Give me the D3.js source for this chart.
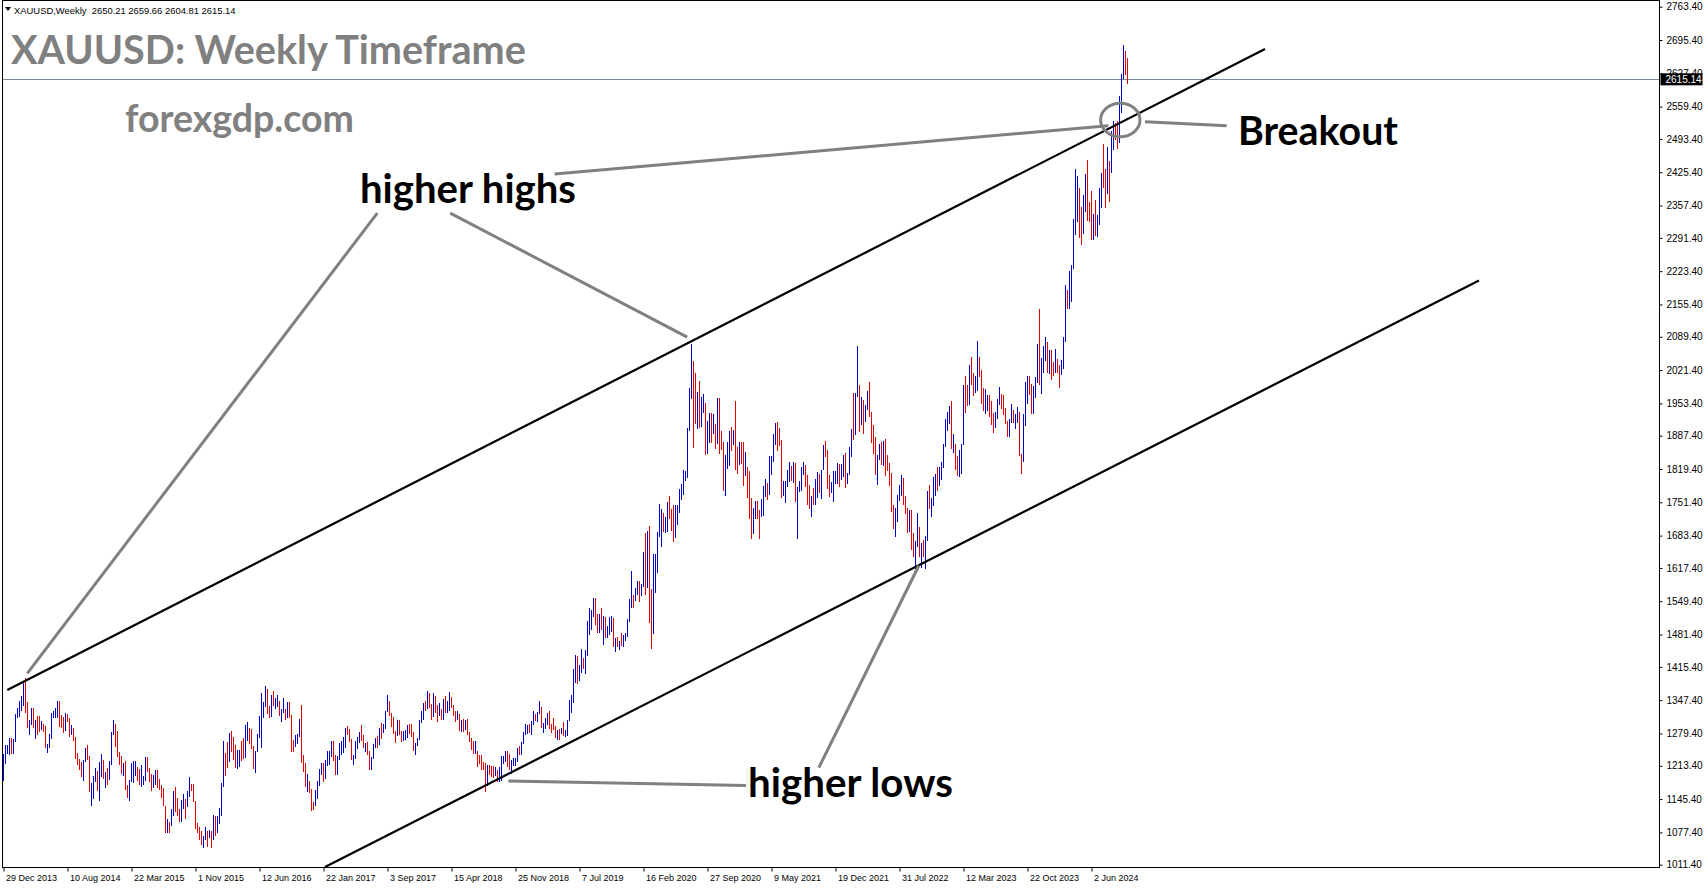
<!DOCTYPE html>
<html><head><meta charset="utf-8">
<script src="https://cdn.jsdelivr.net/npm/d3@7/dist/d3.min.js"></script>
<style>html,body{margin:0;padding:0;background:#fff;overflow:hidden}</style>
</head><body>
<svg id="c" width="1705" height="888"></svg>
<script>
// ---------------- DATA ----------------
const symbolName = "XAUUSD,Weekly";
const lastBarOHLC = [2650.21, 2659.66, 2604.81, 2615.14];
const firstOpen = 1202;
// weekly bars from 29 Dec 2013 to 6 Oct 2024
const closes = [
// 2014
1237,1248,1252,1264,1240,1262,1318,1323,1326,1338,1379,1335,1294,1303,1318,1294,1301,1299,1291,1293,1292,1250,1252,1274,1316,1316,1320,1338,1310,1307,1294,1310,1305,1280,1286,1268,1231,1216,1213,1192,1222,1238,1231,1172,1177,1186,1197,1175,1192,1222,1195,1195,1186,
// 2015
1216,1277,1293,1283,1234,1227,1205,1213,1164,1152,1183,1199,1201,1207,1203,1178,1178,1189,1225,1205,1189,1168,1180,1201,1173,1168,1157,1132,1086,1095,1094,1113,1160,1134,1121,1103,1138,1145,1136,1156,1177,1163,1142,1088,1081,1076,1056,1062,1075,1065,1076,1061,
// 2016
1097,1089,1097,1117,1174,1239,1228,1222,1271,1259,1254,1216,1222,1243,1235,1231,1290,1290,1272,1252,1216,1243,1276,1299,1322,1339,1366,1325,1323,1350,1336,1336,1341,1320,1326,1328,1310,1337,1316,1257,1251,1266,1276,1304,1225,1209,1178,1178,1161,1134,1133,1151,
// 2017
1173,1197,1205,1190,1220,1234,1239,1257,1234,1201,1229,1243,1249,1253,1285,1284,1268,1228,1228,1254,1268,1280,1266,1254,1256,1242,1212,1228,1254,1269,1258,1289,1286,1291,1325,1346,1320,1297,1280,1274,1303,1280,1266,1269,1275,1294,1288,1280,1248,1256,1267,1303,
// 2018
1322,1338,1332,1350,1333,1316,1347,1329,1322,1323,1312,1347,1324,1332,1345,1335,1323,1314,1318,1292,1302,1294,1298,1278,1268,1253,1241,1241,1231,1223,1214,1212,1184,1206,1201,1197,1194,1200,1192,1204,1218,1227,1235,1234,1210,1222,1222,1223,1248,1238,1257,1279,
// 2019
1285,1289,1282,1298,1318,1314,1322,1329,1294,1298,1302,1313,1292,1291,1290,1275,1285,1281,1286,1277,1283,1305,1340,1341,1399,1409,1400,1415,1426,1419,1440,1497,1513,1527,1529,1506,1489,1517,1497,1504,1489,1490,1505,1509,1458,1467,1462,1463,1460,1476,1478,1511,
// 2020
1552,1562,1557,1571,1589,1570,1584,1643,1585,1674,1530,1498,1617,1620,1683,1683,1729,1701,1702,1743,1735,1730,1685,1730,1742,1771,1775,1799,1810,1902,1975,2035,1944,1940,1964,1934,1940,1950,1862,1900,1930,1899,1902,1879,1951,1889,1871,1788,1838,1839,1882,1875,1898,
// 2021
1850,1828,1856,1848,1814,1823,1784,1734,1700,1719,1745,1733,1729,1744,1777,1777,1768,1831,1843,1881,1903,1891,1877,1764,1781,1784,1809,1815,1802,1814,1763,1780,1781,1818,1827,1788,1754,1750,1761,1757,1768,1793,1783,1818,1864,1846,1792,1783,1783,1798,1811,1829,
// 2022
1797,1818,1835,1791,1808,1859,1898,1889,1966,1988,1921,1958,1925,1945,1975,1931,1896,1883,1811,1846,1853,1850,1871,1840,1827,1811,1742,1708,1727,1766,1775,1802,1747,1737,1712,1716,1675,1644,1660,1695,1644,1656,1644,1681,1771,1751,1754,1797,1797,1793,1798,1824,
// 2023
1865,1920,1926,1928,1865,1865,1842,1811,1856,1868,1989,1978,1969,2008,2004,1983,1990,2017,2011,1977,1946,1948,1961,1958,1921,1919,1925,1955,1962,1960,1943,1914,1889,1915,1940,1919,1924,1925,1848,1833,1932,1981,2006,1992,1940,1980,2002,2072,2005,2020,2053,2063,
// 2024
2049,2049,2029,2018,2039,2024,2013,2035,2083,2179,2155,2165,2233,2329,2344,2392,2337,2301,2360,2414,2333,2326,2294,2332,2321,2326,2391,2411,2400,2386,2443,2431,2507,2512,2503,2497,2577,2622,2658,2653,2615.14
];
const highs = [
// 2014
1238,1255,1256,1270,1271,1268,1320,1332,1345,1355,1384,1392,1343,1306,1331,1331,1306,1315,1315,1305,1298,1294,1258,1278,1321,1326,1332,1346,1345,1318,1312,1322,1320,1310,1296,1290,1272,1240,1228,1222,1225,1249,1255,1234,1178,1193,1208,1203,1221,1238,1226,1201,1209,
// 2015
1224,1282,1307,1299,1284,1242,1233,1219,1223,1175,1184,1219,1224,1224,1210,1206,1214,1193,1232,1232,1209,1196,1194,1205,1204,1187,1175,1168,1132,1105,1098,1126,1162,1170,1147,1125,1143,1156,1141,1162,1191,1177,1176,1142,1097,1088,1080,1071,1088,1081,1082,1081,
// 2016
1112,1110,1111,1127,1179,1263,1240,1261,1280,1284,1272,1255,1246,1245,1264,1271,1297,1303,1277,1289,1254,1244,1278,1315,1362,1343,1377,1370,1335,1357,1367,1352,1358,1346,1330,1352,1330,1343,1344,1318,1267,1276,1279,1308,1338,1236,1220,1196,1182,1165,1140,1163,
// 2017
1182,1207,1220,1220,1225,1244,1244,1264,1264,1236,1233,1260,1264,1273,1290,1295,1288,1267,1236,1264,1272,1283,1296,1276,1260,1261,1244,1231,1257,1270,1275,1290,1301,1298,1326,1358,1338,1321,1314,1284,1306,1306,1284,1285,1287,1297,1298,1299,1282,1260,1270,1306,
// 2018
1326,1341,1345,1366,1361,1339,1362,1355,1337,1341,1329,1349,1356,1346,1365,1353,1338,1326,1326,1320,1307,1308,1306,1309,1282,1271,1264,1265,1244,1235,1236,1222,1219,1214,1215,1212,1213,1211,1204,1211,1233,1233,1243,1243,1237,1226,1230,1230,1250,1253,1261,1283,
// 2019
1298,1297,1299,1304,1326,1319,1323,1346,1334,1300,1311,1321,1325,1298,1310,1295,1287,1289,1290,1303,1287,1306,1348,1358,1411,1439,1437,1419,1452,1433,1449,1510,1535,1531,1555,1557,1524,1523,1535,1519,1517,1499,1518,1520,1515,1475,1476,1468,1484,1480,1485,1514,
// 2020
1553,1611,1563,1576,1590,1591,1585,1649,1689,1692,1703,1575,1645,1645,1690,1747,1738,1730,1722,1751,1765,1738,1745,1745,1746,1779,1789,1818,1815,1904,1984,2075,2040,2015,1976,2000,1966,1973,1954,1917,1933,1933,1932,1911,1965,1965,1897,1875,1848,1875,1897,1906,1900,
// 2021
1959,1864,1875,1875,1875,1855,1823,1815,1760,1740,1755,1755,1735,1758,1784,1798,1790,1845,1845,1890,1913,1916,1903,1878,1795,1794,1818,1834,1825,1833,1832,1783,1795,1823,1834,1827,1808,1787,1764,1781,1800,1814,1810,1818,1869,1877,1858,1808,1793,1815,1815,1831,
// 2022
1830,1830,1848,1853,1812,1865,1902,1974,1974,2070,1990,1966,1960,1950,1978,1998,1936,1910,1884,1849,1870,1874,1876,1880,1847,1831,1811,1745,1739,1767,1787,1807,1802,1765,1740,1735,1735,1688,1672,1730,1700,1669,1675,1682,1774,1786,1760,1804,1810,1824,1823,1833,
// 2023
1870,1922,1935,1949,1959,1890,1870,1845,1858,1870,1990,2010,1990,2032,2048,2015,2009,2081,2048,2021,1985,1983,1970,1970,1937,1934,1935,1963,1987,1973,1971,1936,1917,1922,1953,1938,1932,1947,1936,1850,1932,1997,2009,2010,1972,1988,2007,2075,2146,2047,2070,2088,
// 2024
2079,2062,2063,2037,2065,2044,2032,2041,2088,2195,2185,2223,2236,2330,2431,2418,2394,2354,2378,2422,2450,2364,2388,2340,2368,2339,2393,2424,2483,2432,2477,2448,2509,2531,2525,2529,2581,2625,2685,2672,2659.66
];
const lows = [
// 2014
1182,1217,1237,1236,1238,1237,1261,1310,1313,1334,1336,1322,1291,1277,1297,1291,1268,1277,1283,1287,1283,1249,1240,1250,1269,1311,1311,1311,1292,1290,1281,1284,1302,1273,1276,1263,1228,1215,1205,1190,1183,1221,1226,1160,1131,1146,1180,1161,1142,1190,1186,1168,1175,
// 2015
1185,1215,1276,1251,1232,1216,1197,1192,1163,1147,1142,1180,1178,1192,1183,1174,1170,1175,1182,1201,1180,1162,1172,1175,1168,1163,1147,1131,1077,1077,1077,1090,1111,1119,1110,1099,1098,1125,1105,1130,1150,1162,1140,1085,1077,1062,1052,1046,1061,1047,1065,1046,
// 2016
1061,1071,1077,1095,1111,1171,1192,1208,1225,1242,1226,1208,1207,1210,1224,1228,1230,1264,1257,1248,1207,1199,1241,1270,1250,1310,1333,1319,1310,1313,1335,1330,1333,1315,1302,1322,1306,1310,1310,1241,1242,1255,1257,1272,1220,1200,1171,1160,1157,1122,1124,1132,
// 2017
1146,1172,1195,1180,1186,1213,1216,1232,1223,1194,1195,1226,1236,1240,1249,1276,1261,1226,1214,1227,1248,1259,1263,1250,1241,1236,1205,1204,1228,1250,1250,1256,1269,1281,1289,1323,1315,1293,1278,1260,1274,1276,1262,1264,1267,1270,1278,1272,1243,1236,1253,1266,
// 2018
1301,1307,1325,1329,1331,1307,1312,1321,1303,1316,1307,1307,1321,1321,1326,1331,1315,1302,1306,1285,1282,1282,1287,1276,1261,1245,1238,1237,1211,1217,1204,1205,1160,1173,1194,1190,1189,1193,1180,1181,1182,1217,1221,1211,1205,1196,1213,1212,1222,1235,1236,1258,
// 2019
1276,1279,1280,1276,1296,1304,1302,1320,1291,1281,1289,1297,1288,1280,1286,1270,1266,1266,1278,1274,1272,1275,1305,1322,1341,1382,1381,1386,1402,1411,1400,1437,1480,1491,1518,1501,1484,1484,1490,1459,1474,1475,1480,1487,1456,1445,1456,1450,1458,1456,1469,1476,
// 2020
1507,1536,1536,1549,1562,1548,1561,1578,1563,1576,1505,1451,1483,1567,1607,1680,1660,1690,1688,1690,1718,1692,1671,1678,1705,1730,1756,1767,1794,1802,1898,1963,1863,1911,1902,1903,1906,1933,1848,1851,1873,1872,1891,1860,1870,1850,1859,1775,1764,1820,1825,1856,1868,
// 2021
1817,1809,1832,1830,1785,1806,1760,1717,1676,1687,1718,1717,1677,1721,1724,1763,1756,1766,1808,1834,1869,1856,1866,1761,1770,1750,1783,1792,1795,1790,1753,1677,1773,1775,1808,1782,1745,1737,1721,1746,1745,1760,1770,1759,1817,1844,1778,1762,1770,1753,1789,1789,
// 2022
1783,1797,1804,1780,1788,1807,1843,1878,1890,1966,1895,1910,1890,1916,1940,1925,1872,1850,1807,1786,1837,1828,1825,1805,1816,1784,1732,1697,1681,1712,1754,1764,1745,1727,1688,1691,1654,1639,1615,1660,1640,1617,1640,1616,1673,1737,1721,1744,1765,1774,1784,1797,
// 2023
1822,1867,1896,1911,1860,1852,1818,1805,1804,1809,1868,1934,1949,1950,1990,1969,1974,1979,2008,1952,1937,1932,1938,1925,1910,1893,1903,1922,1950,1942,1930,1911,1885,1884,1913,1914,1901,1913,1846,1810,1834,1908,1953,1970,1932,1931,1965,1994,1990,1973,2016,2040,
// 2024
2016,2013,2001,2009,2016,2015,1984,2011,2024,2078,2146,2146,2160,2228,2298,2324,2291,2277,2299,2345,2326,2323,2286,2286,2295,2293,2318,2352,2393,2353,2381,2364,2424,2470,2491,2472,2485,2546,2615,2624,2604.81
];
const priceTicks = [1011.40,1077.40,1145.40,1213.40,1279.40,1347.40,1415.40,1481.40,1549.40,1617.40,1683.40,1751.40,1819.40,1887.40,1953.40,2021.40,2089.40,2155.40,2223.40,2291.40,2357.40,2425.40,2493.40,2559.40,2627.40,2695.40,2763.40];
const dateLabels = ["29 Dec 2013","10 Aug 2014","22 Mar 2015","1 Nov 2015","12 Jun 2016","22 Jan 2017","3 Sep 2017","15 Apr 2018","25 Nov 2018","7 Jul 2019","16 Feb 2020","27 Sep 2020","9 May 2021","19 Dec 2021","31 Jul 2022","12 Mar 2023","22 Oct 2023","2 Jun 2024"];
const barsPerLabel = 32;
// channel lines: [bar index, price]
const upperChannel = [[1.9, 1368.1], [630.75, 2677.1]];
const lowerChannel = [[160.75, 1006.7], [737.75, 2204.3]];
// annotation pointer lines: [bar index, price]
const pointerLines = [
  [[186.9, 2342.0], [11.9, 1402.2]],
  [[223.35, 2342.0], [341.85, 2088.8]],
  [[275.55, 2421.8], [552.4, 2520.4]],
  [[570.75, 2528.6], [611.6, 2520.4]],
  [[407.65, 1209.5], [457.7, 1622.4]],
  [[252.4, 1182.3], [371.25, 1173.1]]
];
const breakoutCircle = {bar: 558.4, price: 2532.1, rBars: 9.85, rPrice: 34.1};

// ---------------- CHART ----------------
const svg = d3.select("#c");
const plotL = 2.5, plotR = 1659.5, plotT = 0.5, plotB = 867.5;

const x = d3.scaleLinear().domain([0, closes.length - 1]).range([3.5, 3.5 + 2 * (closes.length - 1)]);
const y = d3.scaleLinear().domain([1011.4, 2763.4]).range([864.7, 6.7]);

const opens = closes.map((c, i) => i === 0 ? firstOpen : closes[i - 1]);
opens[opens.length - 1] = lastBarOHLC[0];
const bars = closes.map((c, i) => ({
  i, o: opens[i], c,
  h: Math.max(highs[i], opens[i], c),
  l: Math.min(lows[i], opens[i], c)
}));

svg.append("defs").append("clipPath").attr("id", "plotclip")
  .append("rect").attr("x", plotL).attr("y", plotT).attr("width", plotR - plotL).attr("height", plotB - plotT);

const plot = svg.append("g").attr("clip-path", "url(#plotclip)");

// current price line
plot.append("line")
  .attr("x1", plotL).attr("x2", plotR)
  .attr("y1", Math.round(y(lastBarOHLC[3])) + 0.5).attr("y2", Math.round(y(lastBarOHLC[3])) + 0.5)
  .attr("stroke", "#778899").attr("stroke-width", 1);

// bars
plot.append("g").attr("shape-rendering", "crispEdges")
  .selectAll("line").data(bars).join("line")
  .attr("x1", d => x(d.i)).attr("x2", d => x(d.i))
  .attr("y1", d => y(d.h)).attr("y2", d => y(d.l))
  .attr("stroke", d => d.c >= d.o ? "#0000c8" : "#e60000")
  .attr("stroke-width", 1);

// channel lines
[upperChannel, lowerChannel].forEach(pts => {
  plot.append("line")
    .attr("x1", x(pts[0][0])).attr("y1", y(pts[0][1]))
    .attr("x2", x(pts[1][0])).attr("y2", y(pts[1][1]))
    .attr("stroke", "#000").attr("stroke-width", 2.2);
});

// pointer lines
pointerLines.forEach(pts => {
  plot.append("line")
    .attr("x1", x(pts[0][0])).attr("y1", y(pts[0][1]))
    .attr("x2", x(pts[1][0])).attr("y2", y(pts[1][1]))
    .attr("stroke", "#808080").attr("stroke-width", 3);
});

// breakout circle
plot.append("ellipse")
  .attr("cx", x(breakoutCircle.bar)).attr("cy", y(breakoutCircle.price))
  .attr("rx", x(breakoutCircle.rBars) - x(0))
  .attr("ry", Math.abs(y(breakoutCircle.price + breakoutCircle.rPrice / 2) - y(breakoutCircle.price - breakoutCircle.rPrice / 2)))
  .attr("fill", "none").attr("stroke", "#808080").attr("stroke-width", 3);

// text helpers
function fitText(sel, width) {
  const w0 = sel.node().getComputedTextLength();
  const fs = parseFloat(sel.attr("font-size"));
  sel.attr("font-size", (fs * width / w0).toFixed(2));
  return sel;
}
const bigFont = "Lato, 'Open Sans', sans-serif";
function label(txt, x0, x1, base, color, fs) {
  const t = svg.append("text").attr("x", x0).attr("y", base)
    .attr("font-family", bigFont).attr("font-weight", 700)
    .attr("font-size", fs).attr("fill", color).text(txt);
  fitText(t, x1 - x0);
}
label("XAUUSD: Weekly Timeframe", 11, 526, 64, "#808080", 40);
label("forexgdp.com", 125, 354, 132, "#808080", 34);
label("higher highs", 360, 576, 203, "#000", 36);
label("Breakout", 1238, 1398, 145, "#000", 36);
label("higher lows", 748, 953, 797, "#000", 36);

// info line
const info = svg.append("text").attr("x", 14).attr("y", 14)
  .attr("font-family", "'Liberation Sans', Arial, sans-serif").attr("font-size", 10).attr("fill", "#000")
  .attr("xml:space", "preserve")
  .text(symbolName + "  " + lastBarOHLC.map(v => v.toFixed(2)).join(" "));
fitText(info, 222);
svg.append("path").attr("d", "M5,7 L11,7 L8,11 Z").attr("fill", "#000");

// frame
svg.append("rect").attr("x", plotL).attr("y", plotT)
  .attr("width", plotR - plotL).attr("height", plotB - plotT)
  .attr("fill", "none").attr("stroke", "#000").attr("stroke-width", 1);

// y axis
const yAxis = d3.axisRight(y).tickValues(priceTicks).tickFormat(d3.format(".2f"))
  .tickSizeInner(3).tickSizeOuter(0).tickPadding(4);
const gy = svg.append("g").attr("transform", `translate(${plotR},0)`).call(yAxis);
gy.select(".domain").remove();
gy.selectAll("text").attr("font-family", "'Liberation Sans', Arial, sans-serif").attr("font-size", 10).attr("fill", "#000");
gy.selectAll("line").attr("stroke", "#000");

// x axis
const xAxis = d3.axisBottom(x).tickValues(dateLabels.map((d, i) => i * barsPerLabel))
  .tickFormat((d, i) => dateLabels[i]).tickSizeInner(4).tickSizeOuter(0).tickPadding(3);
const gx = svg.append("g").attr("transform", `translate(0,${plotB})`).call(xAxis);
gx.select(".domain").remove();
gx.selectAll("text").attr("text-anchor", "start").attr("dx", 2)
  .attr("font-family", "'Liberation Sans', Arial, sans-serif").attr("font-size", 9).attr("fill", "#000");
gx.selectAll("line").attr("stroke", "#000");

// current price tag
const py = y(lastBarOHLC[3]);
svg.append("rect").attr("x", plotR + 1).attr("y", py - 6).attr("width", 42).attr("height", 12).attr("fill", "#000");
svg.append("text").attr("x", plotR + 6).attr("y", py).attr("dy", "0.35em")
  .attr("font-family", "'Liberation Sans', Arial, sans-serif").attr("font-size", 10).attr("fill", "#fff")
  .text(lastBarOHLC[3].toFixed(2));
</script>
</body></html>
